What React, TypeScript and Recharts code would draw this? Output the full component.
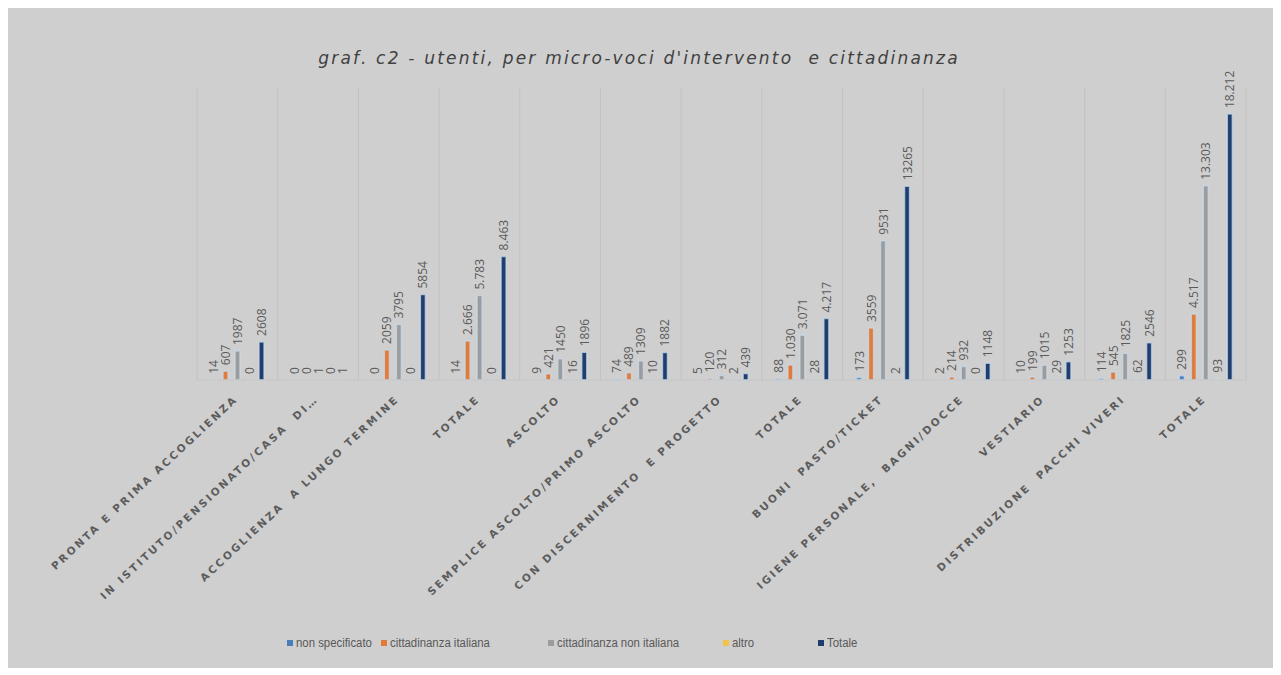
import React from 'react';
import {
  BarChart,
  Bar,
  XAxis,
  YAxis,
  CartesianGrid,
  Legend,
  LabelList
} from 'recharts';

const categories = [
  'PRONTA E PRIMA ACCOGLIENZA',
  'IN ISTITUTO/PENSIONATO/CASA  DI…',
  'ACCOGLIENZA  A LUNGO TERMINE',
  'TOTALE',
  'ASCOLTO',
  'SEMPLICE ASCOLTO/PRIMO ASCOLTO',
  'CON DISCERNIMENTO  E PROGETTO',
  'TOTALE',
  'BUONI  PASTO/TICKET',
  'IGIENE PERSONALE,  BAGNI/DOCCE',
  'VESTIARIO',
  'DISTRIBUZIONE  PACCHI VIVERI',
  'TOTALE'
];
const nonSpecificato = [14, 0, 0, 14, 9, 74, 5, 88, 173, 2, 10, 114, 299];
const cittadinanzaItaliana = [607, 0, 2059, 2666, 421, 489, 120, 1030, 3559, 214, 199, 545, 4517];
const cittadinanzaNonItaliana = [1987, 1, 3795, 5783, 1450, 1309, 312, 3071, 9531, 932, 1015, 1825, 13303];
const altro = [0, 0, 0, 0, 16, 10, 2, 28, 2, 0, 29, 62, 93];
const totale = [2608, 1, 5854, 8463, 1896, 1882, 439, 4217, 13265, 1148, 1253, 2546, 18212];

const series = [
  { key: 'nonSpec', name: 'non specificato', color: '#4a7ebb' },
  { key: 'ita', name: 'cittadinanza italiana', color: '#e07b39' },
  { key: 'nonIta', name: 'cittadinanza non italiana', color: '#9c9c9c' },
  { key: 'altro', name: 'altro', color: '#efc24a' },
  { key: 'totale', name: 'Totale', color: '#1f3e6e' }
];

const data = categories.map((name, i) => ({
  name,
  nonSpec: nonSpecificato[i],
  ita: cittadinanzaItaliana[i],
  nonIta: cittadinanzaNonItaliana[i],
  altro: altro[i],
  totale: totale[i]
}));

// the "TOTALE" groups show thousands with a dot
const fmt = (v: number, i: number) =>
  categories[i] === 'TOTALE' ? String(v).replace(/\B(?=(\d{3})+(?!\d))/g, '.') : String(v);

const labelFont = '"Open Sans", sans-serif';

const ValueLabel = (props: any) => {
  const { x, y, width, value, index } = props;
  const cx = Number(x) + Number(width) / 2;
  const ty = Number(y) - 6;
  return (
    <text
      x={cx}
      y={ty}
      transform={`rotate(-90 ${cx} ${ty})`}
      textAnchor="start"
      dominantBaseline="central"
      fontSize={12}
      fontFamily={labelFont}
      fill="#5a5a5a"
    >
      {fmt(Number(value), index)}
    </text>
  );
};

const CategoryTick = (props: any) => {
  const { x, y, payload } = props;
  return (
    <g transform={`translate(${x + 1},${y + 12})`}>
      <text
        transform="rotate(-43)"
        textAnchor="end"
        fontSize={10.5}
        fontWeight="bold"
        letterSpacing={2.4}
        fontFamily='"DejaVu Sans", sans-serif'
        fill="#5c5c5c"
        style={{ whiteSpace: 'pre' }}
      >
        {payload.value}
      </text>
    </g>
  );
};

// x offsets of the legend entries, as laid out in the original
const legendLeft = [0, 94, 261, 436, 531];

const LegendContent = () => (
  <div style={{ position: 'relative', height: 16, width: 600, fontFamily: '"Liberation Sans", sans-serif', fontSize: 12.5, color: '#595959' }}>
    {series.map((s, i) => (
      <div key={s.key} style={{ position: 'absolute', left: legendLeft[i], top: 0, display: 'flex', alignItems: 'center', whiteSpace: 'nowrap' }}>
        <span style={{ width: 6, height: 6, background: s.color, marginRight: 3, display: 'inline-block' }} />
        <span style={{ display: 'inline-block', transform: 'scaleX(0.91)', transformOrigin: 'left center' }}>{s.name}</span>
      </div>
    ))}
  </div>
);

export default function App() {
  return (
    <div style={{ position: 'relative', width: 1266, height: 660, background: '#cfcfcf' }}>
      <div
        style={{
          position: 'absolute',
          top: 40,
          left: 0,
          width: 1262,
          textAlign: 'center',
          fontFamily: '"DejaVu Sans", sans-serif',
          fontStyle: 'italic',
          fontSize: 17,
          letterSpacing: 2.2,
          color: '#404040'
        }}
      >
        graf. c2 - utenti, per micro-voci d'intervento&nbsp; e cittadinanza
      </div>
      <BarChart
        width={1266}
        height={660}
        data={data}
        margin={{ top: 80, right: 28, left: 189, bottom: 8 }}
        barSize={5}
        barGap={7}
      >
        <CartesianGrid
          horizontal={false}
          stroke="#c2c2c2"
          verticalCoordinatesGenerator={({ offset }: any) =>
            Array.from({ length: categories.length + 1 }, (_, i) => offset.left + (i * offset.width) / categories.length)
          }
        />
        <XAxis
          dataKey="name"
          interval={0}
          height={280}
          tickLine={false}
          axisLine={{ stroke: '#c6c6c6' }}
          tick={<CategoryTick />}
        />
        <YAxis hide domain={[0, 20000]} />
        <Legend
          verticalAlign="middle"
          align="center"
          content={<LegendContent />}
          wrapperStyle={{ position: 'absolute', top: 628, left: 279, width: 'auto' }}
        />
        {series.map((s) => (
          <Bar
            key={s.key}
            dataKey={s.key}
            name={s.name}
            fill={s.color}
            stroke="#c9dcee"
            strokeWidth={1.5}
            strokeOpacity={0.7}
            minPointSize={0.01}
            isAnimationActive={false}
          >
            <LabelList dataKey={s.key} content={<ValueLabel />} />
          </Bar>
        ))}
      </BarChart>
    </div>
  );
}
